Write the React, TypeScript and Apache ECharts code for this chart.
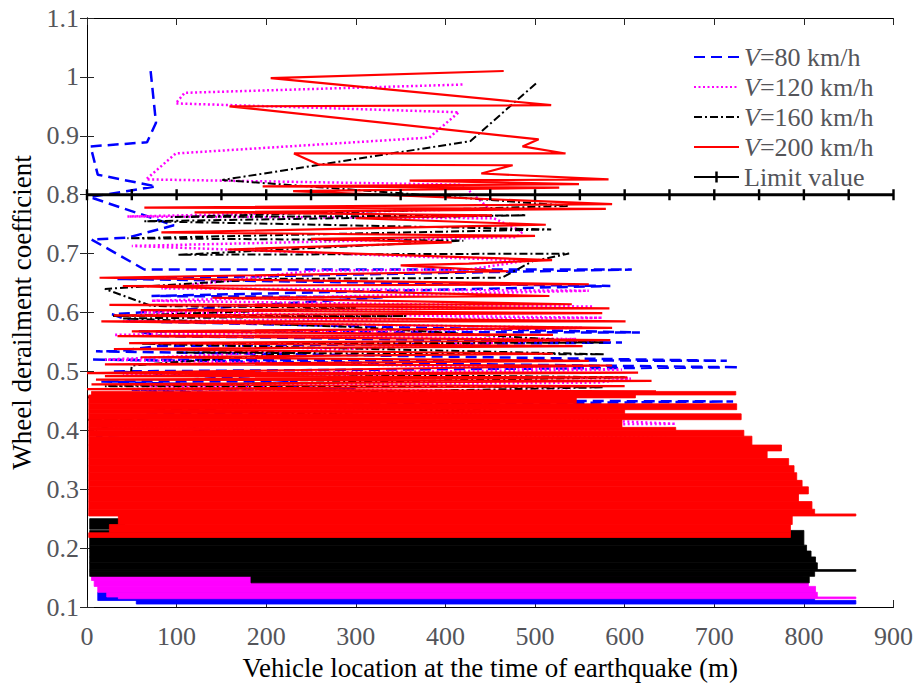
import React, { useEffect, useRef } from 'react';
import * as echarts from 'echarts';

// ---- data (x = vehicle location m, y = wheel derailment coefficient) ----
const seriesNames = ['V=80 km/h', 'V=120 km/h', 'V=160 km/h', 'V=200 km/h', 'Limit value'];

const blue80: number[][] = [
  [71, 1.010], [77, 0.922], [67, 0.889], [4, 0.882], [12, 0.834], [77, 0.814], [3, 0.796], [97, 0.748],
  [45, 0.727], [5, 0.724], [64, 0.673], [608, 0.673], [34, 0.657], [584, 0.645], [72, 0.628], [330, 0.626],
  [28, 0.597], [50, 0.585], [617, 0.566], [56, 0.568], [83, 0.560], [597, 0.549], [79, 0.543], [32, 0.534],
  [10, 0.534], [714, 0.518], [5, 0.520], [728, 0.507], [30, 0.500], [235, 0.483], [16, 0.483], [300, 0.470],
  [50, 0.469], [180, 0.460], [50, 0.452], [721, 0.449], [40, 0.440], [200, 0.430], [20, 0.425], [150, 0.400], [10, 0.390]
];

const pink120: number[][] = [
  [419, 0.987], [109, 0.973], [99, 0.955], [415, 0.940], [382, 0.897], [99, 0.870], [66, 0.826], [419, 0.817],
  [449, 0.776], [45, 0.763], [454, 0.760], [486, 0.737], [479, 0.728], [50, 0.713], [490, 0.688], [426, 0.673],
  [252, 0.671], [83, 0.641], [560, 0.637], [72, 0.620], [565, 0.610], [60, 0.600], [575, 0.591], [40, 0.585],
  [553, 0.574], [30, 0.562], [546, 0.555], [20, 0.520], [597, 0.503], [40, 0.495], [607, 0.488], [571, 0.481],
  [63, 0.476], [200, 0.473], [50, 0.470], [540, 0.467], [30, 0.455], [657, 0.411], [10, 0.405], [742, 0.384], [5, 0.360]
];

const black160: number[][] = [
  [501, 0.989], [428, 0.891], [151, 0.825], [460, 0.790], [538, 0.781], [94, 0.762], [490, 0.765], [64, 0.755],
  [518, 0.741], [45, 0.726], [420, 0.722], [101, 0.698], [538, 0.700], [497, 0.687], [463, 0.659], [200, 0.657],
  [20, 0.640], [72, 0.611], [300, 0.608], [29, 0.594], [356, 0.594], [40, 0.590], [300, 0.575], [577, 0.549],
  [60, 0.547], [578, 0.529], [100, 0.532], [258, 0.534], [50, 0.510], [49, 0.498], [600, 0.490], [20, 0.475],
  [577, 0.473], [0, 0.456], [190, 0.456], [530, 0.440], [0, 0.418], [50, 0.418], [10, 0.400]
];

const red200: number[][] = [
  [465, 1.010], [205, 0.998], [518, 0.952], [159, 0.950], [504, 0.894], [486, 0.882], [534, 0.870], [231, 0.870],
  [259, 0.851], [475, 0.850], [440, 0.836], [582, 0.826], [360, 0.824], [549, 0.818], [196, 0.814], [527, 0.812],
  [230, 0.806], [586, 0.784], [64, 0.778], [579, 0.776], [120, 0.770], [452, 0.765], [300, 0.760], [512, 0.749],
  [83, 0.736], [500, 0.730], [250, 0.725], [407, 0.719], [157, 0.707], [519, 0.689], [426, 0.683], [350, 0.680],
  [470, 0.670], [14, 0.659], [560, 0.648], [40, 0.645], [516, 0.628], [140, 0.625], [541, 0.614], [25, 0.613],
  [583, 0.607], [60, 0.604], [575, 0.599], [30, 0.595], [601, 0.585], [16, 0.585], [586, 0.574], [50, 0.568],
  [520, 0.562], [34, 0.560], [584, 0.553], [47, 0.548], [553, 0.543], [30, 0.538], [520, 0.530], [60, 0.524],
  [560, 0.518], [20, 0.512], [586, 0.510], [0, 0.497], [615, 0.498], [20, 0.492], [603, 0.490], [10, 0.486],
  [630, 0.484], [5, 0.478], [600, 0.475], [0, 0.470], [635, 0.466]
];

// dense bands: [yLow, yHigh, xLeft, xRight]
const blueBand: number[][] = [
  [0.105, 0.111, 55, 858], [0.111, 0.125, 12, 812]
];
const pinkBand: number[][] = [
  [0.114, 0.117, 35, 858], [0.117, 0.125, 22, 815], [0.125, 0.135, 12, 813], [0.135, 0.145, 8, 805], [0.145, 0.153, 5, 798]
];
const blackBand: number[][] = [
  [0.141, 0.152, 183, 806], [0.152, 0.1605, 3, 812], [0.1605, 0.1635, 3, 858], [0.1635, 0.175, 3, 815],
  [0.175, 0.185, 3, 813], [0.185, 0.195, 3, 808], [0.195, 0.205, 3, 803], [0.205, 0.230, 3, 800], [0.232, 0.250, 3, 42]
];
const redBand: number[][] = [
  [0.218, 0.226, 2, 785], [0.226, 0.240, 25, 785], [0.240, 0.2545, 35, 787], [0.2545, 0.258, 2, 858], [0.258, 0.266, 2, 812],
  [0.266, 0.279, 2, 809], [0.279, 0.292, 2, 794], [0.292, 0.304, 2, 805], [0.304, 0.315, 2, 798],
  [0.315, 0.328, 2, 792], [0.328, 0.340, 2, 789], [0.340, 0.352, 2, 783], [0.352, 0.365, 2, 759],
  [0.365, 0.375, 2, 775], [0.375, 0.390, 2, 742], [0.390, 0.400, 2, 733], [0.400, 0.405, 2, 657],
  [0.405, 0.418, 2, 597], [0.418, 0.428, 2, 730], [0.428, 0.435, 2, 600], [0.435, 0.445, 2, 725],
  [0.445, 0.455, 2, 546], [0.455, 0.460, 2, 612], [0.460, 0.466, 5, 724]
];

const limitX = [0, 50, 100, 150, 200, 250, 300, 350, 400, 450, 500, 550, 600, 650, 700, 750, 800, 850, 900];
const limitValue = 0.8;

const COLORS = { blue: '#0000FF', pink: '#FF00FF', black: '#000000', red: '#FF0000' };

// vertical bar marker ("+" whose horizontal arm hides in the line), padded to a square box
const BAR_SYMBOL = 'path://M0,0h0.01v0.01h-0.01z M9.99,9.99h0.01v0.01h-0.01z M3.9,0h2.2v10h-2.2z';

function lineSeries(name: string, data: number[][], band: number[][], color: string, width: number, dash: any, z: number) {
  return {
    type: 'line',
    name,
    data,
    z,
    symbol: 'none',
    itemStyle: { color },
    lineStyle: { color, width, type: dash },
    markArea: {
      z: z - 1,
      silent: true,
      label: { show: false },
      itemStyle: { color, opacity: 1, borderWidth: 0.8, borderColor: color },
      emphasis: { disabled: true },
      data: band.map((r) => [{ coord: [r[2], r[0]] }, { coord: [r[3], r[1]] }])
    }
  };
}

export default function App() {
  const ref = useRef<HTMLDivElement>(null);
  useEffect(() => {
    const chart = echarts.init(ref.current as HTMLDivElement, null, { renderer: 'svg' });
    const axisLine = { show: true, lineStyle: { color: '#000' } };
    const axisTick = { show: true, inside: true, length: 7, lineStyle: { color: '#262626' } };
    const option: any = {
      animation: false,
      grid: { left: 87, right: 21, top: 18, bottom: 79 },
      legend: {
        left: 688,
        top: 39,
        orient: 'vertical',
        itemWidth: 45,
        itemHeight: 14,
        itemGap: 4,
        selectedMode: false,
        data: seriesNames.map((n, i) => (i < 4 ? { name: n, itemStyle: { opacity: 0 } } : { name: n })),
        formatter: (n: string) => (n.startsWith('V=') ? `{i|V}{n|${n.slice(1)}}` : `{n|${n}}`),
        textStyle: {
          fontFamily: 'Liberation Serif',
          fontSize: 26,
          rich: {
            i: { fontFamily: 'Liberation Serif', fontSize: 26, fontStyle: 'italic' },
            n: { fontFamily: 'Liberation Serif', fontSize: 26 }
          }
        }
      },
      xAxis: [
        {
          type: 'value', min: 0, max: 900, interval: 100,
          name: 'Vehicle location at the time of earthquake (m)', nameLocation: 'middle', nameGap: 47,
          nameTextStyle: { fontFamily: 'Liberation Serif', fontSize: 27 },
          axisLabel: { fontFamily: 'Liberation Serif', fontSize: 26, margin: 16 },
          axisLine, axisTick,
          splitLine: { show: false }
        },
        {
          type: 'value', min: 0, max: 900, interval: 100, position: 'top',
          axisLabel: { show: false }, axisLine, axisTick,
          splitLine: { show: false }
        }
      ],
      yAxis: [
        {
          type: 'value', min: 0.1, max: 1.1, interval: 0.1,
          name: 'Wheel derailment coefficient', nameLocation: 'middle', nameGap: 50,
          nameTextStyle: { fontFamily: 'Liberation Serif', fontSize: 27 },
          axisLabel: { fontFamily: 'Liberation Serif', fontSize: 26, margin: 8 },
          axisLine, axisTick,
          splitLine: { show: false }
        },
        {
          type: 'value', min: 0.1, max: 1.1, interval: 0.1, position: 'right',
          axisLabel: { show: false }, axisLine, axisTick,
          splitLine: { show: false }
        }
      ],
      series: [
        lineSeries(seriesNames[0], blue80, blueBand, COLORS.blue, 2.5, [11, 6], 2),
        lineSeries(seriesNames[1], pink120, pinkBand, COLORS.pink, 2.5, [2, 2.5], 4),
        lineSeries(seriesNames[2], black160, blackBand, COLORS.black, 2, [8, 3, 2, 3], 6),
        lineSeries(seriesNames[3], red200, redBand, COLORS.red, 2.2, 'solid', 8),
        {
          type: 'line',
          name: seriesNames[4],
          data: limitX.map((x) => [x, limitValue]),
          z: 10,
          symbol: BAR_SYMBOL,
          symbolSize: 11,
          itemStyle: { color: '#000' },
          lineStyle: { color: '#000', width: 3 }
        }
      ]
    };
    chart.setOption(option);
    return () => chart.dispose();
  }, []);
  return (
    <div
      ref={ref}
      style={{ position: 'fixed', left: 0, top: 0, width: 916, height: 686, background: '#fff' }}
    />
  );
}
